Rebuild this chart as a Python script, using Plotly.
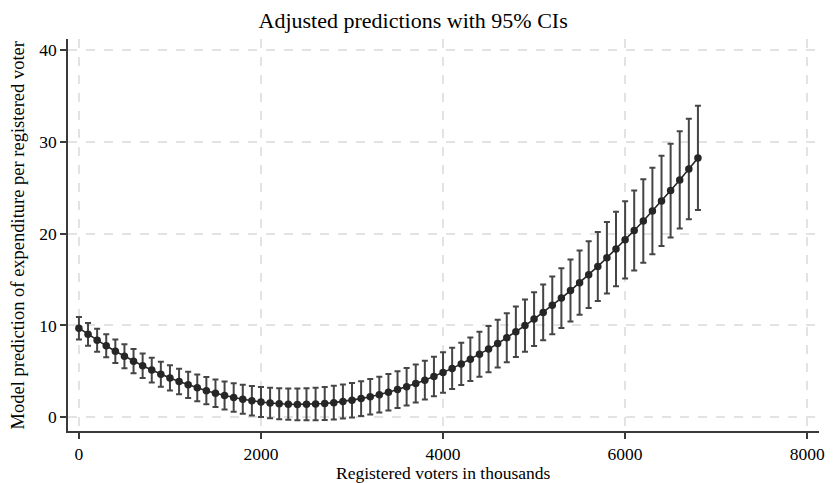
import plotly.graph_objects as go

# Registered voters in thousands
voters = [i * 100 for i in range(69)]

# Model predictions
prediction = [
    9.70, 9.03, 8.39, 7.78, 7.19, 6.64, 6.11, 5.61, 5.14, 4.69,
    4.28, 3.89, 3.53, 3.20, 2.89, 2.62, 2.37, 2.15, 1.96, 1.79,
    1.66, 1.55, 1.47, 1.42, 1.40, 1.41, 1.44, 1.50, 1.59, 1.71,
    1.86, 2.03, 2.23, 2.46, 2.72, 3.01, 3.32, 3.67, 4.04, 4.44,
    4.87, 5.32, 5.81, 6.32, 6.86, 7.42, 8.02, 8.65, 9.30, 9.98,
    10.69, 11.42, 12.19, 12.98, 13.80, 14.65, 15.53, 16.43, 17.37, 18.33,
    19.32, 20.34, 21.38, 22.46, 23.56, 24.69, 25.85, 27.04, 28.25,
]

# Half-width of the 95% confidence intervals
ci_half = [
    1.23, 1.24, 1.25, 1.26, 1.28, 1.30, 1.31, 1.33, 1.35, 1.36,
    1.38, 1.40, 1.43, 1.45, 1.48, 1.50, 1.53, 1.55, 1.58, 1.60,
    1.63, 1.65, 1.68, 1.70, 1.73, 1.75, 1.78, 1.80, 1.83, 1.85,
    1.88, 1.90, 1.93, 1.95, 1.98, 2.01, 2.04, 2.07, 2.11, 2.15,
    2.20, 2.25, 2.31, 2.37, 2.44, 2.51, 2.59, 2.67, 2.75, 2.84,
    2.93, 3.04, 3.15, 3.26, 3.38, 3.50, 3.63, 3.76, 3.90, 4.05,
    4.20, 4.37, 4.54, 4.72, 4.91, 5.10, 5.29, 5.48, 5.67,
]

x_ticks = [0, 2000, 4000, 6000, 8000]
y_ticks = [0, 10, 20, 30, 40]

FONT = "Liberation Serif, Times New Roman, serif"
AXIS_COLOR = "#3a3a3a"
GRID_COLOR = "#e3e3e3"

fig = go.Figure()
fig.add_trace(go.Scatter(
    x=voters,
    y=prediction,
    mode="lines+markers",
    line=dict(color="#262626", width=1.6),
    marker=dict(color="#262626", size=7.5),
    error_y=dict(type="data", array=ci_half, visible=True,
                 color="#454545", thickness=2, width=3),
    showlegend=False,
))

fig.update_layout(
    width=833, height=483,
    margin=dict(l=68, r=8, t=39, b=52),
    paper_bgcolor="white",
    plot_bgcolor="white",
    font=dict(family=FONT, color="black"),
    title=dict(text="Adjusted predictions with 95% CIs",
               x=0.496, xref="container", xanchor="center",
               y=1 - 20 / 483, yref="container", yanchor="middle",
               font=dict(family=FONT, size=22, color="black")),
    xaxis=dict(
        range=[-120, 8130],
        tickvals=x_ticks,
        ticktext=[str(v) for v in x_ticks],
        ticks="outside", ticklen=6, tickwidth=1.5, tickcolor=AXIS_COLOR,
        showline=True, linecolor=AXIS_COLOR, linewidth=1.6,
        showgrid=True, gridcolor=GRID_COLOR, gridwidth=1.5, griddash="dash",
        zeroline=False,
        tickfont=dict(family=FONT, size=17.5, color="black"),
    ),
    yaxis=dict(
        range=[-1.5, 41.2],
        tickvals=y_ticks,
        ticktext=[str(v) for v in y_ticks],
        ticks="outside", ticklen=6, tickwidth=1.5, tickcolor=AXIS_COLOR,
        showline=True, linecolor=AXIS_COLOR, linewidth=1.6,
        showgrid=True, gridcolor=GRID_COLOR, gridwidth=1.5, griddash="dash",
        zeroline=False,
        tickfont=dict(family=FONT, size=17.5, color="black"),
    ),
    annotations=[
        dict(text="Registered voters in thousands",
             xref="paper", yref="paper", x=0.5, y=-0.107,
             xanchor="center", yanchor="middle", showarrow=False,
             font=dict(family=FONT, size=17.5, color="black")),
        dict(text="Model prediction of expenditure per registered voter",
             xref="paper", yref="paper", x=-0.066, y=0.5,
             xanchor="center", yanchor="middle", showarrow=False,
             textangle=-90,
             font=dict(family=FONT, size=18.5, color="black")),
    ],
)

fig.write_html("out.html")
